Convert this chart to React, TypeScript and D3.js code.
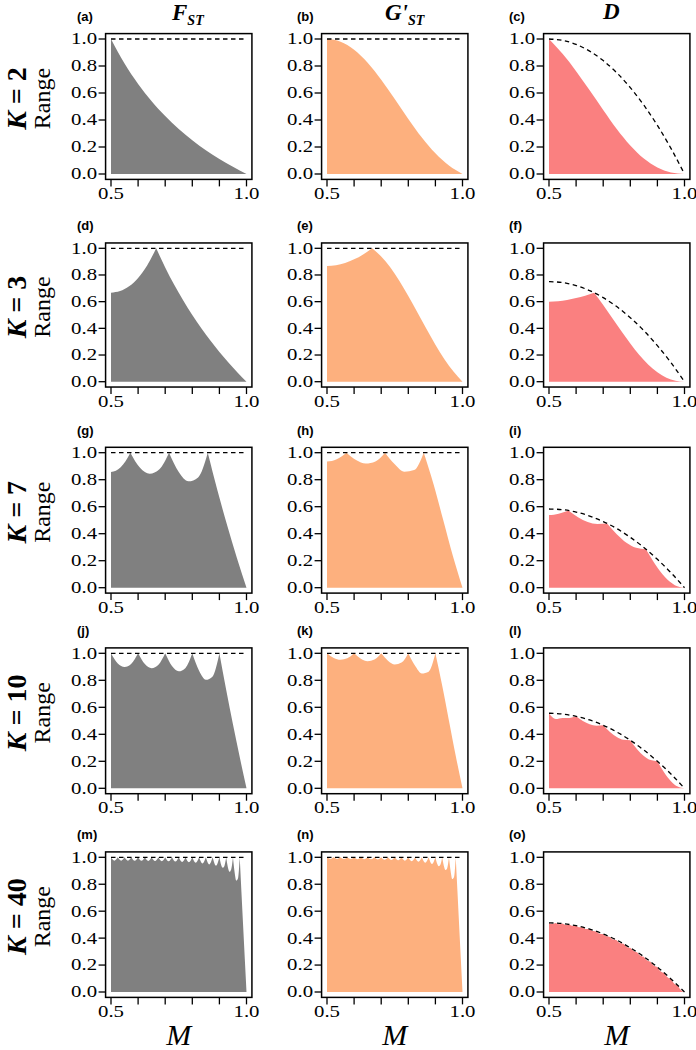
import React from 'react';
import * as d3 from 'd3';

// ---------- data ----------
const M_K2 = [0.5, 0.55, 0.6, 0.65, 0.7, 0.75, 0.8, 0.85, 0.9, 0.95, 1.0];
const FST_K2 = [1, 0.818, 0.667, 0.538, 0.429, 0.333, 0.25, 0.176, 0.111, 0.053, 0];
const GST_K2 = [1, 0.98, 0.921, 0.825, 0.699, 0.556, 0.408, 0.27, 0.153, 0.063, 0];
const D_K2 = [1, 0.89, 0.762, 0.62, 0.474, 0.333, 0.211, 0.114, 0.048, 0.011, 0];

const M_K3 = [0.5, 0.5333, 0.5667, 0.6, 0.6333, 0.6667, 0.7, 0.7333, 0.7667, 0.8, 0.8333, 0.8667, 0.9, 0.9333, 0.9667, 1.0];
const FST_K3 = [0.667, 0.679, 0.715, 0.778, 0.871, 1, 0.857, 0.727, 0.609, 0.5, 0.4, 0.308, 0.222, 0.143, 0.069, 0];
const GST_K3 = [0.867, 0.873, 0.89, 0.917, 0.954, 1, 0.939, 0.858, 0.757, 0.643, 0.52, 0.396, 0.277, 0.169, 0.076, 0];
const D_K3 = [0.6, 0.603, 0.612, 0.627, 0.645, 0.667, 0.575, 0.478, 0.38, 0.286, 0.2, 0.127, 0.07, 0.03, 0.007, 0];

const M_K7 = [0.5, 0.5179, 0.5357, 0.5536, 0.5714, 0.6071, 0.6429, 0.6786, 0.7143, 0.75, 0.7857, 0.8214, 0.8571, 0.8929, 0.9286, 0.9643, 1.0];
const FST_K7 = [0.857, 0.866, 0.892, 0.937, 1, 0.888, 0.844, 0.877, 1, 0.857, 0.788, 0.817, 1, 0.72, 0.462, 0.222, 0];
const GST_K7 = [0.934, 0.938, 0.951, 0.972, 1, 0.946, 0.92, 0.935, 1, 0.914, 0.859, 0.871, 1, 0.768, 0.503, 0.237, 0];
const D_K7 = [0.539, 0.541, 0.547, 0.558, 0.571, 0.522, 0.487, 0.472, 0.476, 0.396, 0.333, 0.296, 0.286, 0.17, 0.077, 0.019, 0];

const M_K10 = [0.5, 0.525, 0.55, 0.575, 0.6, 0.625, 0.65, 0.675, 0.7, 0.725, 0.75, 0.775, 0.8, 0.825, 0.85, 0.875, 0.9, 0.925, 0.95, 0.975, 1.0];
const FST_K10 = [1, 0.925, 0.899, 0.923, 1, 0.92, 0.89, 0.915, 1, 0.906, 0.867, 0.892, 1, 0.87, 0.804, 0.829, 1, 0.73, 0.474, 0.231, 0];
const GST_K10 = [1, 0.965, 0.952, 0.963, 1, 0.96, 0.942, 0.954, 1, 0.945, 0.917, 0.931, 1, 0.908, 0.851, 0.864, 1, 0.761, 0.501, 0.241, 0];
const D_K10 = [0.556, 0.513, 0.521, 0.521, 0.533, 0.498, 0.474, 0.463, 0.467, 0.417, 0.38, 0.359, 0.356, 0.29, 0.24, 0.209, 0.2, 0.117, 0.053, 0.013, 0];

const M_K40 = [0.5, 0.5125, 0.525, 0.5375, 0.55, 0.5625, 0.575, 0.5875, 0.6, 0.6125, 0.625, 0.6375, 0.65, 0.6625, 0.675, 0.6875, 0.7, 0.7125, 0.725, 0.7375, 0.75, 0.7625, 0.775, 0.7875, 0.8, 0.8125, 0.825, 0.8375, 0.85, 0.8625, 0.875, 0.8875, 0.9, 0.90625, 0.9125, 0.91875, 0.925, 0.93125, 0.9375, 0.94375, 0.95, 0.95625, 0.9625, 0.96875, 0.975, 0.98125, 0.9875, 0.99375, 1.0];
const FST_K40 = [1, 0.975, 1, 0.975, 1, 0.975, 1, 0.974, 1, 0.974, 1, 0.973, 1, 0.972, 1, 0.971, 1, 0.97, 1, 0.968, 1, 0.966, 1, 0.963, 1, 0.959, 1, 0.954, 1, 0.947, 1, 0.937, 1, 0.945, 0.922, 0.937, 1, 0.927, 0.893, 0.912, 1, 0.888, 0.827, 0.845, 1, 0.745, 0.494, 0.245, 0];
const GST_K40 = [1, 0.988, 1, 0.988, 1, 0.987, 1, 0.987, 1, 0.986, 1, 0.986, 1, 0.985, 1, 0.984, 1, 0.982, 1, 0.98, 1, 0.978, 1, 0.975, 1, 0.971, 1, 0.967, 1, 0.96, 1, 0.95, 1, 0.954, 0.934, 0.946, 1, 0.936, 0.905, 0.921, 1, 0.897, 0.838, 0.853, 1, 0.752, 0.5, 0.248, 0];
const D_K40 = [0.513, 0.506, 0.512, 0.503, 0.508, 0.498, 0.501, 0.49, 0.492, 0.48, 0.481, 0.467, 0.467, 0.452, 0.45, 0.433, 0.431, 0.413, 0.409, 0.389, 0.385, 0.363, 0.358, 0.335, 0.328, 0.304, 0.296, 0.27, 0.262, 0.233, 0.224, 0.194, 0.185, 0.166, 0.153, 0.145, 0.142, 0.123, 0.109, 0.1, 0.097, 0.077, 0.062, 0.053, 0.05, 0.028, 0.013, 0.003, 0];

// upper bound of D (dashed curve)
const M_DASH = [0.5, 0.55, 0.6, 0.65, 0.7, 0.75, 0.8, 0.85, 0.9, 0.95, 1.0];
const DMAX_K2 = [1, 0.99, 0.96, 0.91, 0.84, 0.75, 0.64, 0.51, 0.36, 0.19, 0];
const DMAX_K3 = [0.75, 0.743, 0.72, 0.683, 0.63, 0.563, 0.48, 0.383, 0.27, 0.143, 0];
const DMAX_K7 = [0.583, 0.578, 0.56, 0.531, 0.49, 0.438, 0.373, 0.298, 0.21, 0.111, 0];
const DMAX_K10 = [0.556, 0.55, 0.533, 0.506, 0.467, 0.417, 0.356, 0.283, 0.2, 0.106, 0];
const DMAX_K40 = [0.513, 0.508, 0.492, 0.467, 0.431, 0.385, 0.328, 0.262, 0.185, 0.097, 0];
// upper bound of F_ST and G'_ST (dashed line)
const M_FLAT = [0.5, 1.0];
const BOUND_FLAT = [1, 1];

const K_VALUES = [2, 3, 7, 10, 40];
const Y_TICKS = [0, 0.2, 0.4, 0.6, 0.8, 1.0];
const X_TICKS = [0.5, 0.6, 0.7, 0.8, 0.9, 1.0];
const X_TICK_LABELS = [0.5, 1.0];
const PANEL_LABELS = ['a', 'b', 'c', 'd', 'e', 'f', 'g', 'h', 'i', 'j', 'k', 'l', 'm', 'n', 'o'];

const ROWS = [
  { K: 2, M: M_K2, vals: [FST_K2, GST_K2, D_K2], dmax: DMAX_K2 },
  { K: 3, M: M_K3, vals: [FST_K3, GST_K3, D_K3], dmax: DMAX_K3 },
  { K: 7, M: M_K7, vals: [FST_K7, GST_K7, D_K7], dmax: DMAX_K7 },
  { K: 10, M: M_K10, vals: [FST_K10, GST_K10, D_K10], dmax: DMAX_K10 },
  { K: 40, M: M_K40, vals: [FST_K40, GST_K40, D_K40], dmax: DMAX_K40 },
];

// ---------- layout ----------
const COL_X05 = [111, 327, 549];
const COL_W = 135.5;
const ROW_Y1 = [39, 248.3, 452.7, 653.3, 857.3];
const ROW_Y0 = [174, 381.7, 587.7, 788.3, 992];
const FILLS = ['#808080', '#FDB07E', '#FA8080'];
const LABEL_X = [77, 297, 509];
const SERIF = '"Liberation Serif", "Times New Roman", serif';
const SANS = '"Liberation Sans", Arial, sans-serif';
const TICK_SX = 1.3;

function splitAtCusps(K: number, M: number[], V: number[]) {
  const segs: [number, number][][] = [];
  let cur: [number, number][] = [];
  M.forEach((m, i) => {
    cur.push([m, V[i]]);
    const km = K * m;
    if (i > 0 && i < M.length - 1 && Math.abs(km - Math.round(km)) < 1e-3) {
      segs.push(cur);
      cur = [[m, V[i]]];
    }
  });
  segs.push(cur);
  return segs;
}

function Panel({ r, c }: { r: number; c: number }) {
  const row = ROWS[r];
  const x = d3.scaleLinear().domain([0.5, 1]).range([COL_X05[c], COL_X05[c] + COL_W]);
  const y = d3.scaleLinear().domain([0, 1]).range([ROW_Y0[r], ROW_Y1[r]]);
  const line = d3
    .line<[number, number]>()
    .x((d) => x(d[0]))
    .y((d) => y(d[1]))
    .curve(d3.curveMonotoneX);
  const segs = splitAtCusps(row.K, row.M, row.vals[c]);
  let path = segs
    .map((s, i) => {
      const p = line(s) || '';
      return i === 0 ? p : 'L' + p.slice(1);
    })
    .join('');
  path += `L${x(1)},${y(0)}L${x(0.5)},${y(0)}Z`;

  const dashPts: [number, number][] =
    c === 2
      ? M_DASH.map((m, i) => [m, row.dmax[i]] as [number, number])
      : M_FLAT.map((m, i) => [m, BOUND_FLAT[i]] as [number, number]);
  const dashPath = line(dashPts) || '';

  const bx0 = x(0.48), bx1 = x(1.02), by0 = y(-0.04), by1 = y(1.04);
  const tick = 7;
  return (
    <g>
      <path d={path} fill={FILLS[c]} stroke="none" />
      <path d={dashPath} fill="none" stroke="#000" strokeWidth={1.3} strokeDasharray="4.5,3.5" />
      <rect x={bx0} y={by1} width={bx1 - bx0} height={by0 - by1} fill="none" stroke="#000" strokeWidth={1.5} />
      {Y_TICKS.map((t) => (
        <g key={'y' + t}>
          <line x1={bx0 - tick} x2={bx0} y1={y(t)} y2={y(t)} stroke="#000" strokeWidth={1.3} />
          <text
            transform={`translate(${bx0 - tick - 1.5},${y(t) + 5.4}) scale(${TICK_SX},1)`}
            textAnchor="end"
            fontFamily={SERIF}
            fontSize={16}
            fill="#000"
          >
            {t.toFixed(1)}
          </text>
        </g>
      ))}
      {X_TICKS.map((t) => (
        <line key={'x' + t} x1={x(t)} x2={x(t)} y1={by0} y2={by0 + tick} stroke="#000" strokeWidth={1.3} />
      ))}
      {X_TICK_LABELS.map((t) => (
        <text
          key={'xl' + t}
          transform={`translate(${x(t)},${y(0) + 25}) scale(${TICK_SX},1)`}
          textAnchor="middle"
          fontFamily={SERIF}
          fontSize={16}
          fill="#000"
        >
          {t.toFixed(1)}
        </text>
      ))}
      <text x={LABEL_X[c]} y={ROW_Y1[r] - 18} fontFamily={SANS} fontWeight="bold" fontSize={13} fill="#000">
        ({PANEL_LABELS[r * 3 + c]})
      </text>
    </g>
  );
}

export default function App() {
  const W = 696, H = 1050;
  const colCenters = COL_X05.map((x0) => x0 + COL_W / 2);
  return (
    <svg
      width={W}
      height={H}
      viewBox={`0 0 ${W} ${H}`}
      style={{ position: 'absolute', left: 0, top: 0, background: '#fff' }}
    >
      <rect x={0} y={0} width={W} height={H} fill="#fff" />
      {/* column titles */}
      <text x={172} y={20} fontFamily={SERIF} fontWeight="bold" fontStyle="italic" fontSize={23}>
        F<tspan fontSize={14} dy={5}>ST</tspan>
      </text>
      <text x={385} y={20} fontFamily={SERIF} fontWeight="bold" fontStyle="italic" fontSize={23}>
        G'<tspan fontSize={14} dy={5}>ST</tspan>
      </text>
      <text x={603} y={19} fontFamily={SERIF} fontWeight="bold" fontStyle="italic" fontSize={23}>
        D
      </text>
      {ROWS.map((row, r) => {
        const cy = (ROW_Y0[r] + ROW_Y1[r]) / 2 - 8;
        return (
          <g key={'row' + r}>
            <text
              transform={`translate(26,${cy}) rotate(-90)`}
              textAnchor="middle"
              fontFamily={SERIF}
              fontWeight="bold"
              fontSize={28}
            >
              <tspan fontStyle="italic">K</tspan>
              {' = ' + K_VALUES[r]}
            </text>
            <text
              transform={`translate(50,${cy}) rotate(-90)`}
              textAnchor="middle"
              fontFamily={SERIF}
              fontSize={24}
            >
              Range
            </text>
            {[0, 1, 2].map((c) => (
              <Panel key={c} r={r} c={c} />
            ))}
          </g>
        );
      })}
      {colCenters.map((cx, i) => (
        <text key={'M' + i} x={cx} y={1045} textAnchor="middle" fontFamily={SERIF} fontStyle="italic" fontSize={30}>
          M
        </text>
      ))}
    </svg>
  );
}
